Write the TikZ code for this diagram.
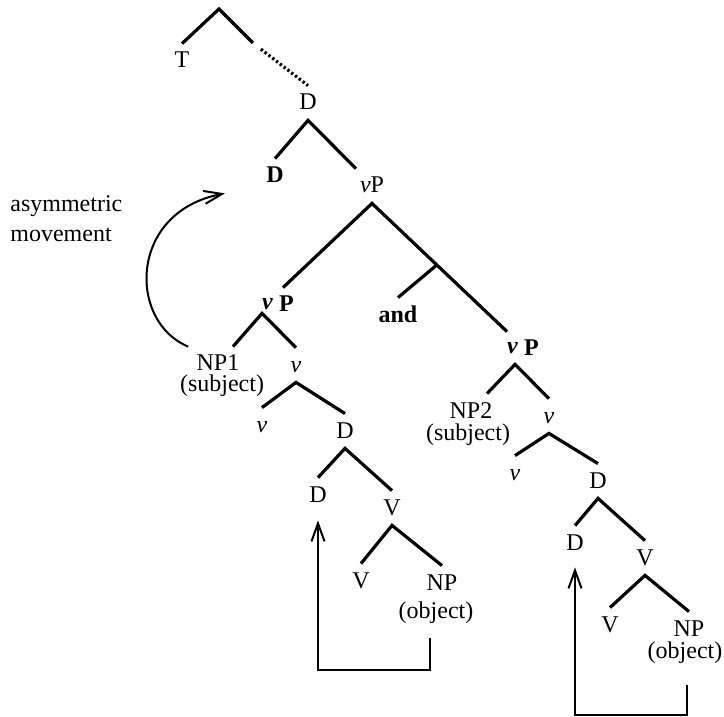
\documentclass[tikz,border=0pt]{standalone}
\usepackage{fontspec}
\setmainfont{Liberation Serif}
\usetikzlibrary{arrows.meta}

\tikzset{
    lbl/.style={inner sep=4pt, text height=8pt, text depth=1pt, anchor=base},
    sub/.style={inner sep=2pt, anchor=base},
    branch/.style={line width=1.6pt},
    move/.style={line width=1pt, -{Straight Barb[length=9pt,width=6.5pt]}}
}
\newcommand{\lv}{\textit{v}}
\newcommand{\bvP}{\textbf{\raisebox{1.5pt}{\textit{v}} P}}

\begin{document}
\begin{tikzpicture}[x=0.5pt, y=-0.5pt, font=\fontsize{12}{14}\selectfont]
        \useasboundingbox (0,0) rectangle (724,717);

        % Top of the tree
        \coordinate (top) at (219,9);
        \coordinate (cut) at (253,43);
        \node[lbl] (t) at (182,68) {T};
        \node[lbl] (d1) at (308,110) {D};
        \node[lbl] (d2) at (275,183) {\textbf{D}};
        \node[lbl] (vp) at (372,193) {\lv P};

        % Conjunction of the two vPs
        \node[lbl] (and) at (398,322) {\textbf{and}};
        \node[lbl] (vpl) at (278,312) {\bvP};
        \node[lbl] (vpr) at (523,356) {\bvP};

        % Left conjunct
        \node[lbl] (np1) at (218,371) {NP1};
        \node[sub] (subj1) at (222,392) {(subject)};
        \node[lbl] (v1) at (296,372) {\lv};
        \node[lbl] (v2) at (262,432) {\lv};
        \node[lbl] (d3) at (345,438) {D};
        \node[lbl] (d4) at (318,502) {D};
        \node[lbl] (vv1) at (392,515) {V};
        \node[lbl] (vv2) at (361,588) {V};
        \node[lbl] (np) at (442,590) {NP};
        \node[sub] (obj1) at (436,618) {(object)};

        % Right conjunct
        \node[lbl] (np2) at (471,418) {NP2};
        \node[sub] (subj2) at (468,440) {(subject)};
        \node[lbl] (v3) at (549,423) {\lv};
        \node[lbl] (v4) at (515,480) {\lv};
        \node[lbl] (d5) at (598,488) {D};
        \node[lbl] (d6) at (575,550) {D};
        \node[lbl] (vv3) at (645,565) {V};
        \node[lbl] (vv4) at (610,632) {V};
        \node[lbl] (np3) at (689,636) {NP};
        \node[sub] (obj2) at (685,658) {(object)};

        % Label of the curved arrow
        \node[anchor=base west, align=left, inner sep=0pt, font=\fontsize{12}{15}\selectfont] (note) at (10,242) {asymmetric\\movement};

        % Branches
        \draw[branch] (t.north) -- (top) -- (cut);
        \draw[branch, dash pattern=on 1.2pt off 1.2pt, shorten <=5pt] (cut) -- (d1.north);
        \draw[branch] (d2.north) -- (d1.south) -- ([xshift=-8pt]vp.north);
        \draw[branch] ([xshift=2.5pt]vpl.north) -- (vp.south) -- coordinate[pos=0.48] (conj) ([xshift=-8pt]vpr.north);
        \draw[branch] (conj) -- (and.north);

        \draw[branch] ([xshift=7.5pt]np1.north) -- ([shift={(-8pt,4.5pt)}]vpl.south) -- (v1.north);
        \draw[branch] (v2.north) -- (v1.south) -- (d3.north);
        \draw[branch] (d4.north) -- (d3.south) -- (vv1.north);
        \draw[branch] (vv2.north) -- (vv1.south) -- (np.north);

        \draw[branch] ([xshift=8pt]np2.north) -- ([shift={(-4pt,1pt)}]vpr.south) -- (v3.north);
        \draw[branch] (v4.north) -- (v3.south) -- (d5.north);
        \draw[branch] (d6.north) -- (d5.south) -- (vv3.north);
        \draw[branch] (vv4.north) -- (vv3.south) -- (np3.north);

        % Movement arrows
        \draw[move] (np1.north west) .. controls (128,322) and (128,212) .. ([xshift=-16.5pt]d2.south west);
        \draw[move] ([xshift=-3pt,yshift=-5pt]obj1.south) -- ++(0,-16pt) -| ([yshift=-4pt]d4.south);
        \draw[move] ([xshift=1pt,yshift=-8.5pt]obj2.south) -- ++(0,-15pt) -| ([yshift=-3.5pt]d6.south);
    \end{tikzpicture}
\end{document}
